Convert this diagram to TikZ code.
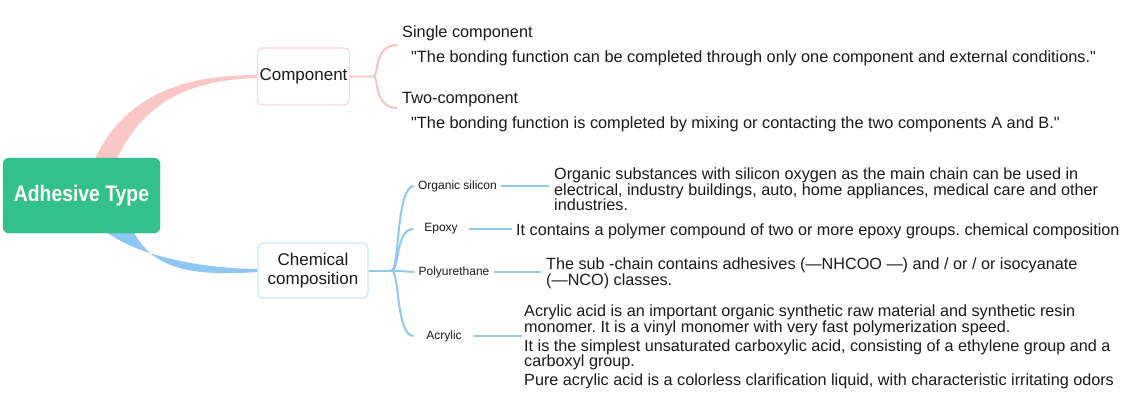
\documentclass[tikz,border=0pt]{standalone}
\usepackage{fontspec}
\setmainfont{Liberation Sans}[Ligatures=TeXOff]
\newfontfamily\rootfont[FakeStretch=0.86]{Liberation Sans}
\usetikzlibrary{calc,backgrounds}
\frenchspacing

\definecolor{rootgreen}{HTML}{34C08D}
\definecolor{pinkband}{HTML}{FAC6C6}
\definecolor{pinkline}{HTML}{F6C0C0}
\definecolor{pinkborder}{HTML}{F8DADA}
\definecolor{blueband}{HTML}{8DC7F2}
\definecolor{blueline}{HTML}{92C8EF}
\definecolor{blueborder}{HTML}{CCE5F7}
\definecolor{inkgray}{HTML}{1A1A1A}

\begin{document}
\begin{tikzpicture}[x=1pt, y=-1pt, text=inkgray]
    % Define styles
    \tikzstyle{rootbox} = [rectangle, rounded corners=6pt, minimum width=157pt, minimum height=75pt, text centered, draw=rootgreen!92!black, fill=rootgreen, text=white, font=\rootfont\bfseries\fontsize{22.5}{24}\selectfont]
    \tikzstyle{topicbox} = [rectangle, rounded corners=5pt, line width=1.2pt, align=center, fill=white, font=\fontsize{17}{19}\selectfont]
    \tikzstyle{branchlabel} = [inner xsep=4pt, inner ysep=2pt, minimum width=55pt, font=\fontsize{12}{14}\selectfont]
    \tikzstyle{headtext} = [anchor=base west, inner sep=0pt, font=\fontsize{16.3}{18}\selectfont]
    \tikzstyle{desctext} = [anchor=north west, inner sep=0pt, align=left, font=\fontsize{16.2}{15.6}\selectfont]
    \tikzstyle{pinklink} = [draw=pinkline, line width=1.8pt]
    \tikzstyle{bluelink} = [draw=blueline, line width=2pt]

    \useasboundingbox (0,0) rectangle (1144,407);

    % Nodes
    \node (root) [rootbox] at (81.5,195.5) {Adhesive Type};
    \node (comp) [topicbox, draw=pinkborder, minimum width=91pt, minimum height=57pt, inner xsep=2pt] at (303.5,76.5) {Component};
    \node (chem) [topicbox, draw=blueborder, minimum width=110pt, minimum height=55pt] at (313,270.5) {Chemical\\composition};

    \node (single) [headtext] at (402,37.5) {Single component};
    \node (singleNote) [headtext] at (411,62) {"The bonding function can be completed through only one component and external conditions."};
    \node (twoComp) [headtext] at (402,103) {Two-component};
    \node (twoNote) [headtext] at (411,128) {"The bonding function is completed by mixing or contacting the two components A and B."};

    \node (silicon) [branchlabel] at (457.5,186) {Organic silicon};
    \node (epoxy) [branchlabel] at (441,229) {Epoxy};
    \node (pu) [branchlabel] at (454,272) {Polyurethane};
    \node (acrylic) [branchlabel, minimum width=60pt] at (444,336) {Acrylic};

    \node (siliconText) [desctext] at (554,167.5) {Organic substances with silicon oxygen as the main chain can be used in\\electrical, industry buildings, auto, home appliances, medical care and other\\industries.};
    \node (epoxyText) [desctext, anchor=base west] at (516,235) {It contains a polymer compound of two or more epoxy groups. chemical composition};
    \node (puText) [desctext] at (546,257.5) {The sub -chain contains adhesives (—NHCOO —) and / or / or isocyanate\\(—NCO) classes.};
    \node (acrylicText) [desctext] at (524,304.5) {Acrylic acid is an important organic synthetic raw material and synthetic resin\\monomer. It is a vinyl monomer with very fast polymerization speed.\\[3.5pt]It is the simplest unsaturated carboxylic acid, consisting of a ethylene group and a\\carboxyl group.\\[3.5pt]Pure acrylic acid is a colorless clarification liquid, with characteristic irritating odors};

    \coordinate (compJoint) at ($(comp.east)+(24,0)$);
    \coordinate (singleEnd) at (397,45);
    \coordinate (twoEnd) at (397,108);
    \coordinate (chemJoint) at ($(chem.east)+(23,0)$);

    % Main branches
    \begin{scope}[on background layer]
        \fill [pinkband] ($(root.center)+(8.5,-25.5)$) .. controls (118,100) and (175,75) .. ($(comp.west)+(0,-1.5)$)
            -- ($(comp.west)+(0,1.5)$) .. controls (185,80) and (138,105) .. ($(root.center)+(30.5,-25.5)$) -- cycle;
        \fill [blueband] ($(root.center)+(13.5,26.5)$) .. controls (120,250) and (185,268) .. ($(chem.west)+(0,-1.5)$)
            -- ($(chem.west)+(0,1.5)$) .. controls (175,278) and (145,262) .. ($(root.center)+(46.5,24.5)$) -- cycle;
    \end{scope}

    % Arrows
    \draw [pinklink] (comp.east) -- (compJoint) .. controls +(4,0) and +(-23,0) .. (singleEnd);
    \draw [pinklink] (compJoint) .. controls +(4,0) and +(-23,0) .. (twoEnd);

    \draw [bluelink] (chem.east) -- (chemJoint);
    \draw [bluelink] (chemJoint) .. controls +(8,0) and +(-18,0) .. (silicon.west);
    \draw [bluelink] (chemJoint) .. controls +(8,0) and +(-18,0) .. (epoxy.west);
    \draw [bluelink] (chemJoint) -- (pu.west);
    \draw [bluelink] (chemJoint) .. controls +(8,0) and +(-18,0) .. (acrylic.west);

    \draw [bluelink] (silicon.east) -- ($(silicon.east -| siliconText.west)+(-5,0)$);
    \draw [bluelink] (epoxy.east) -- ($(epoxy.east -| epoxyText.west)+(-4,0)$);
    \draw [bluelink] (pu.east) -- ($(pu.east -| puText.west)+(-5,0)$);
    \draw [bluelink] (acrylic.east) -- ($(acrylic.east -| acrylicText.west)+(-2,0)$);
\end{tikzpicture}
\end{document}
